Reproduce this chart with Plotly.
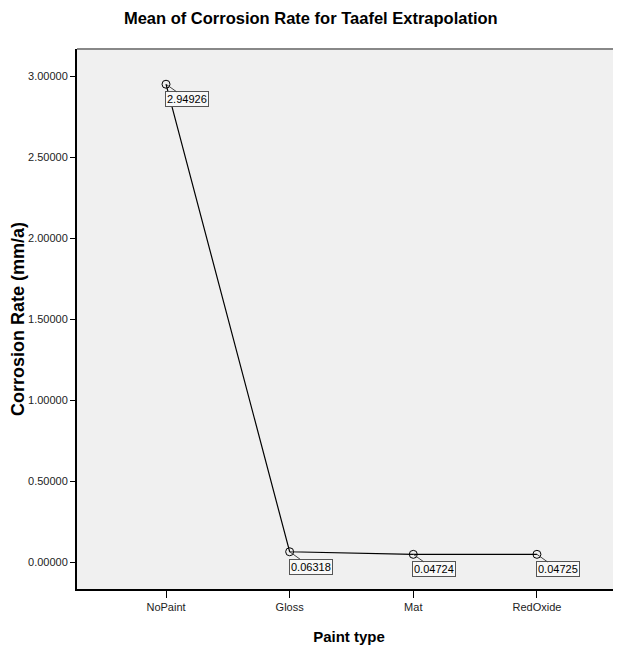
import plotly.graph_objects as go

categories = ["NoPaint", "Gloss", "Mat", "RedOxide"]
means = [2.94926, 0.06318, 0.04724, 0.04725]
y_ticks = [0.0, 0.5, 1.0, 1.5, 2.0, 2.5, 3.0]

FONT = "Liberation Sans, Arial, sans-serif"

fig = go.Figure()
fig.add_trace(go.Scatter(
    x=categories, y=means, mode="lines+markers",
    line=dict(color="black", width=1.2),
    marker=dict(symbol="circle-open", size=8, color="black", line=dict(width=1)),
    showlegend=False, hoverinfo="skip",
))

for c, v in zip(categories, means):
    fig.add_annotation(
        x=c, y=v, text=f"{v:.5f}", showarrow=True, arrowhead=0, arrowwidth=1,
        arrowcolor="#444", ax=21, ay=15, axref="pixel", ayref="pixel",
        font=dict(family=FONT, size=11, color="black"),
        bgcolor="#f8f8f8", bordercolor="#555", borderwidth=1, borderpad=1,
    )

fig.add_annotation(
    text="<b>Corrosion Rate (mm/a)</b>", textangle=-90, showarrow=False,
    xref="paper", yref="paper", x=0, xshift=-59, y=0.5,
    xanchor="center", yanchor="middle",
    font=dict(family=FONT, size=18, color="black"),
)

fig.add_shape(type="line", xref="paper", yref="paper", x0=0, x1=1, y0=1, y1=1,
              line=dict(color="#888", width=2))

fig.update_layout(
    width=613, height=639,
    margin=dict(l=69, r=0, t=41, b=58),
    paper_bgcolor="white", plot_bgcolor="#f0f0f0",
    title=dict(text="<b>Mean of Corrosion Rate for Taafel Extrapolation</b>",
               x=0.494, xanchor="center", y=0.984, yanchor="middle",
               font=dict(family=FONT, size=16.5, color="black")),
    xaxis=dict(
        type="category", range=[-0.72, 3.68], showgrid=False, zeroline=False,
        showline=True, linecolor="black", linewidth=2,
        ticks="outside", ticklen=7, tickcolor="black", tickwidth=1,
        tickfont=dict(family=FONT, size=11, color="#222"),
        title=dict(text="<b>Paint type</b>", standoff=19,
                   font=dict(family=FONT, size=15, color="black")),
    ),
    yaxis=dict(
        range=[-0.1667, 3.1667], showgrid=False, zeroline=False,
        showline=True, linecolor="black", linewidth=2,
        tickvals=y_ticks, ticktext=[f"{t:.5f}" for t in y_ticks],
        ticks="outside", ticklen=5, tickcolor="black", tickwidth=1,
        tickfont=dict(family=FONT, size=11, color="#222"),
    ),
)

fig.write_html("out.html")
